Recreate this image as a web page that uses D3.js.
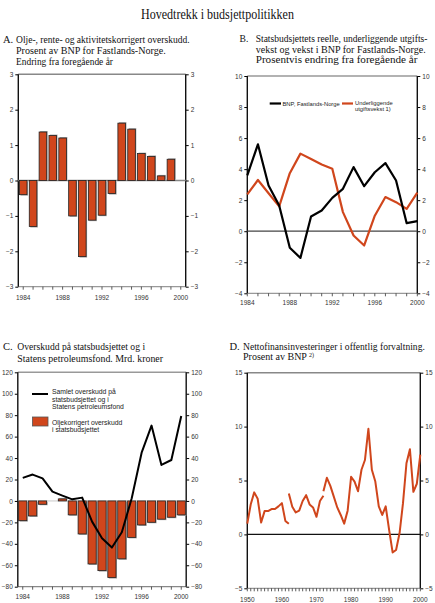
<!DOCTYPE html>
<style>
    body{ margin:0; background:#fff; }
    svg{ font-family:"Liberation Sans", Arial, sans-serif; }
    .title{ font-family:"Liberation Serif","Times New Roman",serif; fill:#111; }
    .tick text{ fill:#333; }
</style>
<svg width="435" height="603"></svg>
<script src="https://cdn.jsdelivr.net/npm/d3@7"></script>
<script>
    var svg=d3.select("svg");
    var red="#d0461c";

    // A: change in oil-, interest- and activity-adjusted surplus
    var yearsA=[1984,1985,1986,1987,1988,1989,1990,1991,1992,1993,1994,1995,1996,1997,1998,1999];
    var surplusChangeA=[-0.4,-1.3,1.37,1.27,1.2,-1.0,-2.15,-1.12,-0.98,-0.37,1.62,1.45,0.76,0.68,0.13,0.6];
    var yTicksA=[-3,-2,-1,0,1,2,3];

    // B: GDP mainland vs underlying spending growth
    var yearsB=[1984,1985,1986,1987,1988,1989,1990,1991,1992,1993,1994,1995,1996,1997,1998,1999,2000];
    var gdpB=[3.6,5.6,2.95,1.66,-1.07,-1.72,0.95,1.33,2.15,2.73,4.13,2.9,3.8,4.39,3.27,0.52,0.65];
    var spendingB=[2.37,3.3,2.45,1.6,3.74,5.0,4.65,4.3,4.02,1.23,-0.28,-0.92,1.0,2.2,1.87,1.44,2.48];
    var yTicksB=[-4,-2,0,2,4,6,8,10];

    // C: surplus, bn kroner
    var yearsC=[1984,1985,1986,1987,1988,1989,1990,1991,1992,1993,1994,1995,1996,1997,1998,1999,2000];
    var oilAdjustedC=[-18.4,-14,-3.1,0,1.9,-13,-30.8,-58.8,-65,-71.5,-54,-34,-22.4,-19.9,-17,-15.2,-13];
    var totalC=[21.5,24.6,21.1,8.7,5,1.5,3.1,-19.3,-34.8,-43.5,-29.2,2.5,45,70.3,33.6,38.2,79.3];
    var yTicksC=[-80,-60,-40,-20,0,20,40,60,80,100,120];

    var xLabels4=[1984,1988,1992,1996,2000];

    // D: net financial investment, three statistical segments
    var yearsD1=[1950,1951,1952,1953,1954,1955,1956,1957,1958,1959,1960,1961,1962];
    var netInvD1=[1.0,2.8,3.9,3.3,1.1,2.16,2.16,2.35,2.35,2.6,2.9,1.25,0.98];
    var yearsD2=[1962,1963,1964,1965,1966,1967,1968,1969,1970,1971,1972];
    var netInvD2=[3.8,2.56,2.04,2.2,3.1,3.64,2.78,2.5,1.63,3.1,3.58];
    var yearsD3=[1972,1973,1974,1975,1976,1977,1978,1979,1980,1981,1982,1983,1984,1985,1986,1987,1988,1989,1990,1991,1992,1993,1994,1995,1996,1997,1998,1999,2000];
    var netInvD3=[4.0,5.25,4.5,3.5,2.5,1.8,1.0,2.2,5.35,4.9,4.0,6.0,6.9,9.8,6.0,4.9,2.6,1.8,2.6,0.4,-1.67,-1.45,0.1,2.9,6.6,7.9,3.95,4.7,7.4];
    var yTicksD=[-5,0,5,10,15];
    var xLabelsD=[1950,1960,1970,1980,1990,2000];
    var xMinorD=[];
    for(var yr=1950;yr<=2000;yr++) xMinorD.push(yr);

    // serif text squeezed horizontally to a given width (reference font is narrower)
    function fitText(x,y,size,str,width){
        var t=svg.append("text").attr("class","title").attr("font-size",size).text(str);
        var w=t.node().getComputedTextLength();
        var k=width/w;
        t.attr("transform","translate("+x+","+y+") scale("+k+",1)");
        return t;
    }

    fitText(141,18.5,14.5,"Hovedtrekk i budsjettpolitikken",153);

    // lines: [text, width] ; optional superscript as third item
    function panelTitle(x,letter,tx,y0,lines,step,size){
        svg.append("text").attr("class","title").attr("x",x).attr("y",y0)
            .attr("font-size",size).text(letter);
        lines.forEach(function(l,i){
            fitText(tx,y0+i*step,size,l[0],l[1]);
            if(l[2]) svg.append("text").attr("class","title").attr("x",tx+l[1]+2).attr("y",y0+i*step-3.5)
                .attr("font-size",6).text(l[2]);
        });
    }

    // frame with left/right value axes
    function frame(x,y,ticks,fmt,topColor,botColor){
        var x0=x.range()[0], x1=x.range()[1];
        var y0=y.range()[0], y1=y.range()[1];
        var g=svg.append("g");
        g.append("g").attr("transform","translate("+x0+",0)")
            .call(d3.axisLeft(y).tickValues(ticks).tickSize(3).tickPadding(2).tickFormat(fmt))
            .call(function(a){ a.select(".domain").remove(); a.selectAll("text").attr("font-size",6.5); });
        g.append("g").attr("transform","translate("+x1+",0)")
            .call(d3.axisRight(y).tickValues(ticks).tickSize(3).tickPadding(2).tickFormat(fmt))
            .call(function(a){ a.select(".domain").remove(); a.selectAll("text").attr("font-size",6.5); });
        g.append("line").attr("x1",x0).attr("x2",x1).attr("y1",y1).attr("y2",y1)
            .attr("stroke",topColor).attr("stroke-width",1.6);
        g.append("line").attr("x1",x0).attr("x2",x1).attr("y1",y0).attr("y2",y0)
            .attr("stroke",botColor).attr("stroke-width",1.2);
        [x0,x1].forEach(function(xx){
            g.append("line").attr("x1",xx).attr("x2",xx).attr("y1",y1).attr("y2",y0)
                .attr("stroke","#111").attr("stroke-width",1.4);
        });
        return g;
    }

    function bottomAxis(x,yPos,minor,labels,ly){
        var g=svg.append("g");
        g.selectAll("line.mt").data(minor).enter().append("line")
            .attr("x1",function(d){return x(d);}).attr("x2",function(d){return x(d);})
            .attr("y1",yPos).attr("y2",yPos+3).attr("stroke","#333").attr("stroke-width",0.8);
        g.selectAll("text").data(labels).enter().append("text")
            .attr("x",function(d){return x(d);}).attr("y",ly).attr("text-anchor","middle")
            .attr("font-size",6.5).attr("fill","#333").text(function(d){return d;});
    }

    function bars(x,y,years,vals,w){
        var g=svg.append("g");
        g.selectAll("rect.sh").data(vals).enter().append("rect")
            .attr("x",function(d,i){return x(years[i])-w/2+1;})
            .attr("y",function(d){return Math.min(y(d),y(0))+(d<0?1:-1);})
            .attr("width",w).attr("height",function(d){return Math.abs(y(d)-y(0));})
            .attr("fill","#aaa");
        g.selectAll("rect.b").data(vals).enter().append("rect")
            .attr("x",function(d,i){return x(years[i])-w/2;})
            .attr("y",function(d){return Math.min(y(d),y(0));})
            .attr("width",w).attr("height",function(d){return Math.abs(y(d)-y(0));})
            .attr("fill",red).attr("stroke","#222").attr("stroke-width",0.8);
    }

    function pathLine(x,y,years,vals,color,w){
        svg.append("path").datum(vals)
            .attr("d",d3.line().x(function(d,i){return x(years[i]);}).y(function(d){return y(d);}))
            .attr("fill","none").attr("stroke",color).attr("stroke-width",w)
            .attr("stroke-linejoin","round");
    }

    // ---------- A ----------
    panelTitle(3,"A.",16,43,[["Olje-, rente- og aktivitetskorrigert overskudd.",174],
        ["Prosent av BNP for Fastlands-Norge.",150],["Endring fra foregående år",97]],11,10.5);
    var xA=d3.scaleLinear().domain([1983.5,2000.5]).range([18.3,185.7]);
    var yA=d3.scaleLinear().domain([-3,3]).range([286.7,74.3]);
    frame(xA,yA,yTicksA,d3.format("d"),"#888","#999");
    bottomAxis(xA,286.7,yearsA.concat([2000]),xLabels4,299.5);
    svg.append("line").attr("x1",18.3).attr("x2",185.7).attr("y1",yA(0)).attr("y2",yA(0))
        .attr("stroke","#888").attr("stroke-width",1.5);
    bars(xA,yA,yearsA,surplusChangeA,7.6);

    // ---------- B ----------
    panelTitle(239.5,"B.",255.7,42.3,[["Statsbudsjettets reelle, underliggende utgifts-",172],
        ["vekst og vekst i BNP for Fastlands-Norge.",170],["Prosentvis endring fra foregående år",162]],10.2,9.6);
    var xB=d3.scaleLinear().domain([1984,2000]).range([247.3,417.3]);
    var yB=d3.scaleLinear().domain([-4,10]).range([293.3,76]);
    frame(xB,yB,yTicksB,d3.format("d"),"#999","#999");
    bottomAxis(xB,293.3,yearsB,xLabels4,305);
    svg.append("line").attr("x1",247.3).attr("x2",417.3).attr("y1",yB(0)).attr("y2",yB(0))
        .attr("stroke","#444").attr("stroke-width",1.2);
    pathLine(xB,yB,yearsB,spendingB,red,2.2);
    pathLine(xB,yB,yearsB,gdpB,"#000",2.2);
    svg.append("line").attr("x1",269.7).attr("x2",281).attr("y1",103.5).attr("y2",103.5)
        .attr("stroke","#000").attr("stroke-width",2.2);
    svg.append("text").attr("x",282.5).attr("y",105.8).attr("font-size",5.8).attr("fill","#222")
        .text("BNP, Fastlands-Norge");
    svg.append("line").attr("x1",342).attr("x2",353).attr("y1",103.5).attr("y2",103.5)
        .attr("stroke",red).attr("stroke-width",2.2);
    svg.append("text").attr("x",355).attr("y",105.3).attr("font-size",5.8).attr("fill","#222")
        .text("Underliggende");
    svg.append("text").attr("x",355).attr("y",111).attr("font-size",5.8).attr("fill","#222")
        .text("utgiftsvekst 1)");

    // ---------- C ----------
    panelTitle(3,"C.",17.3,349.5,[["Overskudd på statsbudsjettet og i",128],
        ["Statens petroleumsfond. Mrd.  kroner",146]],12.5,10.5);
    var xC=d3.scaleLinear().domain([1983.5,2000.5]).range([17.8,186.2]);
    var yC=d3.scaleLinear().domain([-80,120]).range([586.7,372.3]);
    frame(xC,yC,yTicksC,d3.format("d"),"#999","#888");
    bottomAxis(xC,586.7,yearsC,xLabels4,599);
    svg.append("line").attr("x1",18.3).attr("x2",185.7).attr("y1",yC(0)).attr("y2",yC(0))
        .attr("stroke","#bbb").attr("stroke-width",0.8);
    bars(xC,yC,yearsC,oilAdjustedC,8.2);
    pathLine(xC,yC,yearsC,totalC,"#000",2);
    svg.append("line").attr("x1",32).attr("x2",48).attr("y1",394).attr("y2",394)
        .attr("stroke","#000").attr("stroke-width",2);
    [["Samlet overskudd på",393.8],["statsbudsjettet og i",401.6],["Statens petroleumsfond",409.4],
     ["Oljekorrigert overskudd",424.6],["i statsbudsjettet",432.2]].forEach(function(t){
        svg.append("text").attr("x",52).attr("y",t[1]).attr("font-size",6.8).attr("fill","#222").text(t[0]);
    });
    svg.append("rect").attr("x",32.5).attr("y",417).attr("width",15.5).attr("height",9)
        .attr("fill",red).attr("stroke","#555").attr("stroke-width",0.8);

    // ---------- D ----------
    panelTitle(229.5,"D.",243,349.5,[["Nettofinansinvesteringer i offentlig forvaltning.",182],
        ["Prosent av BNP",64,"2)"]],10.8,10.5);
    var xD=d3.scaleLinear().domain([1950,2000]).range([247.3,420.3]);
    var yD=d3.scaleLinear().domain([-5,15]).range([588.3,372.7]);
    frame(xD,yD,yTicksD,d3.format("d"),"#888","#999");
    bottomAxis(xD,588.3,xMinorD,xLabelsD,601.5);
    svg.append("line").attr("x1",247.3).attr("x2",420.3).attr("y1",yD(0)).attr("y2",yD(0))
        .attr("stroke","#111").attr("stroke-width",1.2);
    pathLine(xD,yD,yearsD1,netInvD1,red,2);
    pathLine(xD,yD,yearsD2,netInvD2,red,2);
    pathLine(xD,yD,yearsD3,netInvD3,red,2);
</script>
